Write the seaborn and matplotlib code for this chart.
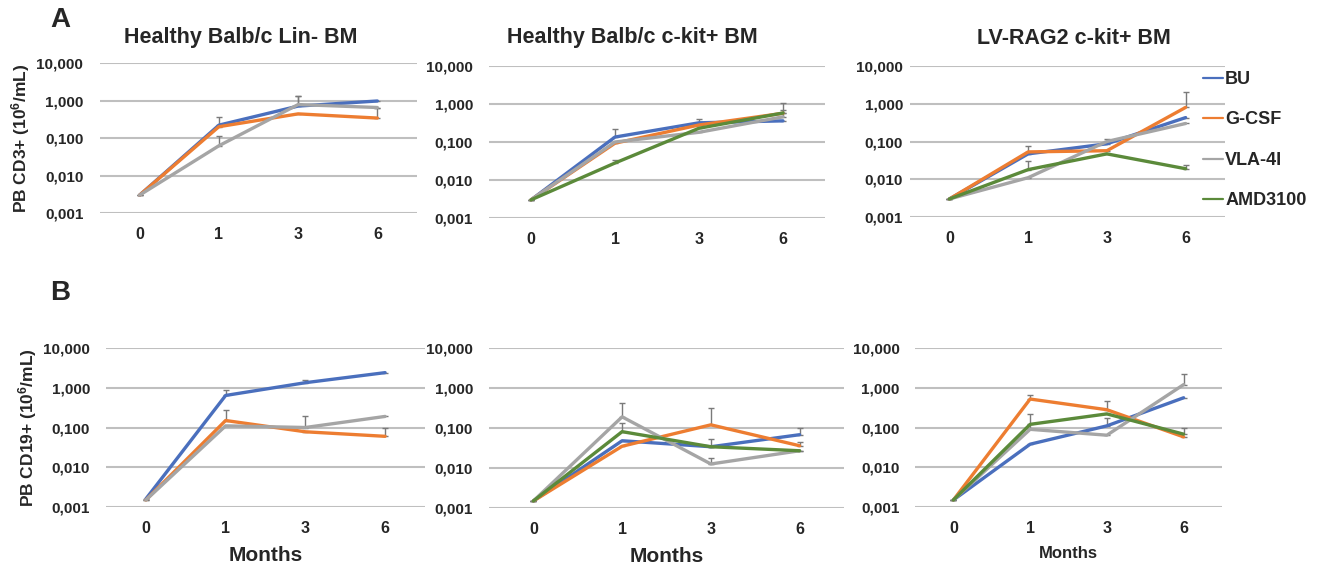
import numpy as np
import pandas as pd
import seaborn as sns
import matplotlib
matplotlib.use("Agg")
import matplotlib.pyplot as plt

sns.set_style("white")
plt.rcParams["font.family"] = ["Liberation Sans", "DejaVu Sans"]
plt.rcParams["font.weight"] = "bold"
plt.rcParams["mathtext.fontset"] = "custom"
plt.rcParams["mathtext.bf"] = "Liberation Sans:bold"
plt.rcParams["mathtext.rm"] = "Liberation Sans:bold"
plt.rcParams["mathtext.default"] = "bf"

nan = np.nan
months = ["0", "1", "3", "6"]
treatments = ["BU", "G-CSF", "VLA-4I", "AMD3100"]
colors = ["#4a6fbd", "#ed7d31", "#a5a5a5", "#5b8a3a"]
ytick_vals = [0.001, 0.01, 0.1, 1, 10]
ytick_labels = ["0,001", "0,010", "0,100", "1,000", "10,000"]
titles = ["Healthy Balb/c Lin- BM", "Healthy Balb/c c-kit+ BM", "LV-RAG2 c-kit+ BM"]

# Row A: PB CD3+ (mean values, upper error)
a1_bu = [0.003, 0.22, 0.71, 0.97]
a1_gcsf = [0.003, 0.20, 0.44, 0.34]
a1_vla = [0.003, 0.062, 0.78, 0.65]
a1_bu_err = [nan, 0.14, 0.6, nan]
a1_gcsf_err = [nan, nan, nan, 0.3]
a1_vla_err = [nan, 0.05, 0.5, nan]

a2_bu = [0.003, 0.135, 0.32, 0.36]
a2_gcsf = [0.003, 0.093, 0.28, 0.57]
a2_vla = [0.003, 0.10, 0.18, 0.46]
a2_amd = [0.003, 0.028, 0.23, 0.58]
a2_bu_err = [nan, 0.085, 0.08, nan]
a2_gcsf_err = [nan, nan, nan, 0.5]
a2_vla_err = [nan, nan, nan, 0.25]
a2_amd_err = [nan, 0.005, nan, nan]

a3_bu = [0.003, 0.047, 0.087, 0.43]
a3_gcsf = [0.003, 0.053, 0.057, 0.8]
a3_vla = [0.003, 0.011, 0.10, 0.30]
a3_amd = [0.003, 0.018, 0.047, 0.019]
a3_bu_err = [nan, 0.03, 0.03, nan]
a3_gcsf_err = [nan, nan, nan, 1.3]
a3_vla_err = [nan, nan, nan, nan]
a3_amd_err = [nan, 0.012, nan, 0.005]

# Row B: PB CD19+
b1_bu = [0.0016, 0.64, 1.34, 2.4]
b1_gcsf = [0.0015, 0.15, 0.078, 0.06]
b1_vla = [0.0015, 0.11, 0.10, 0.19]
b1_bu_err = [nan, 0.22, 0.26, nan]
b1_gcsf_err = [nan, 0.12, nan, 0.04]
b1_vla_err = [nan, nan, 0.1, nan]

b2_bu = [0.0015, 0.048, 0.034, 0.068]
b2_gcsf = [0.0015, 0.035, 0.12, 0.036]
b2_vla = [0.0015, 0.19, 0.0126, 0.027]
b2_amd = [0.0015, 0.081, 0.034, 0.027]
b2_bu_err = [nan, nan, nan, 0.032]
b2_gcsf_err = [nan, nan, 0.2, 0.009]
b2_vla_err = [nan, 0.23, 0.0054, nan]
b2_amd_err = [nan, 0.05, 0.019, nan]

b3_bu = [0.0015, 0.038, 0.11, 0.56]
b3_gcsf = [0.0015, 0.52, 0.28, 0.058]
b3_vla = [0.0015, 0.09, 0.064, 1.2]
b3_amd = [0.0015, 0.12, 0.22, 0.068]
b3_bu_err = [nan, nan, 0.06, nan]
b3_gcsf_err = [nan, 0.15, 0.18, nan]
b3_vla_err = [nan, 0.13, nan, 1.0]
b3_amd_err = [nan, nan, nan, 0.032]

panels = [
    ([a1_bu, a1_gcsf, a1_vla], [a1_bu_err, a1_gcsf_err, a1_vla_err]),
    ([a2_bu, a2_gcsf, a2_vla, a2_amd], [a2_bu_err, a2_gcsf_err, a2_vla_err, a2_amd_err]),
    ([a3_bu, a3_gcsf, a3_vla, a3_amd], [a3_bu_err, a3_gcsf_err, a3_vla_err, a3_amd_err]),
    ([b1_bu, b1_gcsf, b1_vla], [b1_bu_err, b1_gcsf_err, b1_vla_err]),
    ([b2_bu, b2_gcsf, b2_vla, b2_amd], [b2_bu_err, b2_gcsf_err, b2_vla_err, b2_amd_err]),
    ([b3_bu, b3_gcsf, b3_vla, b3_amd], [b3_bu_err, b3_gcsf_err, b3_vla_err, b3_amd_err]),
]

W, H = 1322, 569
fig = plt.figure(figsize=(W / 100, H / 100), dpi=100)

# axes boxes in pixels: left, top, right, bottom
boxes = [
    (100, 63, 417, 213), (489, 66, 825, 218), (910, 66, 1225, 217),
    (106, 348, 425, 507), (489, 348, 844, 508), (915, 348, 1222, 507),
]
ypads = [12, 11.5, 5, 11.5, 11.5, 11]
title_x = [241, 632, 1074]

pos = list(range(len(months)))
for i, (box, (series, errs)) in enumerate(zip(boxes, panels)):
    l, t, r, b = box
    ax = fig.add_axes([l / W, 1 - b / H, (r - l) / W, (b - t) / H])
    rows = []
    for name, vals in zip(treatments, series):
        for p, v in zip(pos, vals):
            rows.append({"pos": p, "value": v, "Treatment": name})
    df = pd.DataFrame(rows)
    used = treatments[:len(series)]
    for name, vals, err, c in zip(used, series, errs, colors):
        ax.errorbar(pos, vals, yerr=[np.zeros(len(vals)), err], fmt="none",
                    ecolor="#7a7a7a", elinewidth=1.0, capsize=2, capthick=1.0, zorder=1)
    sns.lineplot(data=df, x="pos", y="value", hue="Treatment", hue_order=used,
                 palette=colors[:len(used)], linewidth=2.4, ax=ax, legend=(i == 2),
                 zorder=3)
    ax.set_yscale("log")
    ax.set_ylim(0.001, 10)
    ax.set_xlim(-0.5, len(months) - 0.5)
    ax.set_yticks(ytick_vals)
    ax.set_yticklabels(ytick_labels, fontsize=11, fontweight="bold")
    ax.minorticks_off()
    ax.set_xticks(pos)
    ax.set_xticklabels(months, fontsize=11.5, fontweight="bold")
    ax.tick_params(length=0)
    ax.tick_params(axis="y", pad=ypads[i])
    ax.tick_params(axis="x", pad=10)
    ax.yaxis.grid(True, color="#bfbfbf", linewidth=1.5)
    ax.set_axisbelow(True)
    for s in ax.spines.values():
        s.set_visible(False)
    ax.set_xlabel("")
    ax.set_ylabel("")
    if i < 3:
        fig.text(title_x[i] / W, 1 - 38 / H, titles[i], fontsize=15.5,
                 fontweight="bold", ha="center", va="center")
    if i == 0:
        ax.set_ylabel("PB CD3+ (10$^{6}$/mL)", fontsize=12.5, fontweight="bold", labelpad=3)
    if i == 3:
        ax.set_ylabel("PB CD19+ (10$^{6}$/mL)", fontsize=12.5, fontweight="bold", labelpad=3)
    if i in (3, 4):
        ax.set_xlabel("Months", fontsize=15, fontweight="bold", labelpad=7)
    if i == 5:
        ax.set_xlabel("Months", fontsize=12, fontweight="bold", labelpad=7)
    if i == 2:
        leg = ax.legend(loc="upper left", bbox_to_anchor=(0.88, 1.075), frameon=False,
                        handlelength=1.1, handletextpad=0.1, labelspacing=1.3,
                        prop={"size": 13, "weight": "bold"})
        for h in leg.get_lines():
            h.set_linewidth(1.6)

fig.text(50 / W, 1 - 20 / H, "A", fontsize=20, fontweight="bold", ha="left", va="center")
fig.text(50 / W, 1 - 293 / H, "B", fontsize=20, fontweight="bold", ha="left", va="center")

fig.savefig("out.png", dpi=100)
